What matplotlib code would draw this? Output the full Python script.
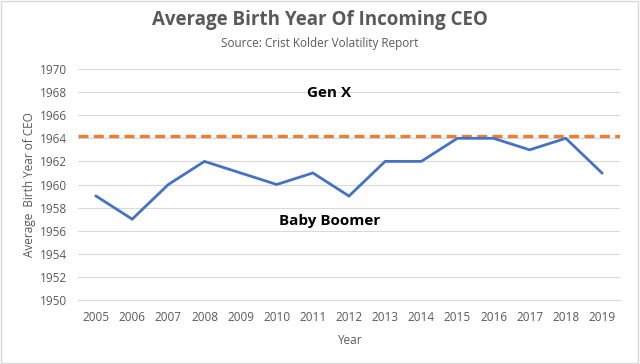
import matplotlib.pyplot as plt
from matplotlib.patches import Rectangle

plt.rcParams['font.family'] = ['Open Sans', 'DejaVu Sans']

# data
years = list(range(2005, 2020))
birth_year = [1959, 1957, 1960, 1962, 1961, 1960, 1961, 1959, 1962, 1962,
              1964, 1964, 1963, 1964, 1961]
gen_x_start = 1964.2

LINE_BLUE = "#4472C4"
ORANGE = "#ED7D31"
GRID = "#D9D9D9"
TEXT = "#595959"

fig = plt.figure(figsize=(6.4, 3.64), dpi=100, facecolor='white')
ax = fig.add_axes([78 / 640, 1 - 300 / 364, (620 - 78) / 640, (300 - 69) / 364])

ax.plot(years, birth_year, color=LINE_BLUE, linewidth=2.0, zorder=3,
        solid_joinstyle='miter')
ax.axhline(gen_x_start, color=ORANGE, linewidth=2.4, linestyle=(0, (3, 1.6)),
           zorder=2)

ax.set_xlim(2004.5, 2019.5)
ax.set_ylim(1950, 1970)
ax.set_yticks(range(1950, 1971, 2))
ax.set_xticks(years)
ax.grid(axis='y', color=GRID, linewidth=0.8)
ax.set_axisbelow(True)
for s in ax.spines.values():
    s.set_visible(False)
ax.spines['bottom'].set_visible(True)
ax.spines['bottom'].set_color(GRID)
ax.tick_params(length=0, labelsize=8.5, labelcolor=TEXT, pad=8)

ax.set_ylabel("Average  Birth Year of CEO", fontsize=8.5, color=TEXT, labelpad=3)
ax.set_xlabel("Year", fontsize=8.5, color=TEXT, labelpad=7)

ax.text(2011.45, 1967.95, "Gen X", ha='center', va='center', fontsize=11,
        fontweight='bold', color='black')
ax.text(2011.45, 1956.8, "Baby Boomer", ha='center', va='center', fontsize=11,
        fontweight='bold', color='black')

fig.text(0.5, 1 - 20 / 364, "Average Birth Year Of Incoming CEO", ha='center',
         va='center', fontsize=13.5, fontweight='bold', color=TEXT)
fig.text(0.5, 1 - 43 / 364, "Source: Crist Kolder Volatility Report", ha='center',
         va='center', fontsize=8.5, color=TEXT)

fig.patches.append(Rectangle((0.002, 0.003), 0.995, 0.994, transform=fig.transFigure,
                             fill=False, edgecolor=GRID, linewidth=1))

fig.savefig("out.png", dpi=100, facecolor='white')
